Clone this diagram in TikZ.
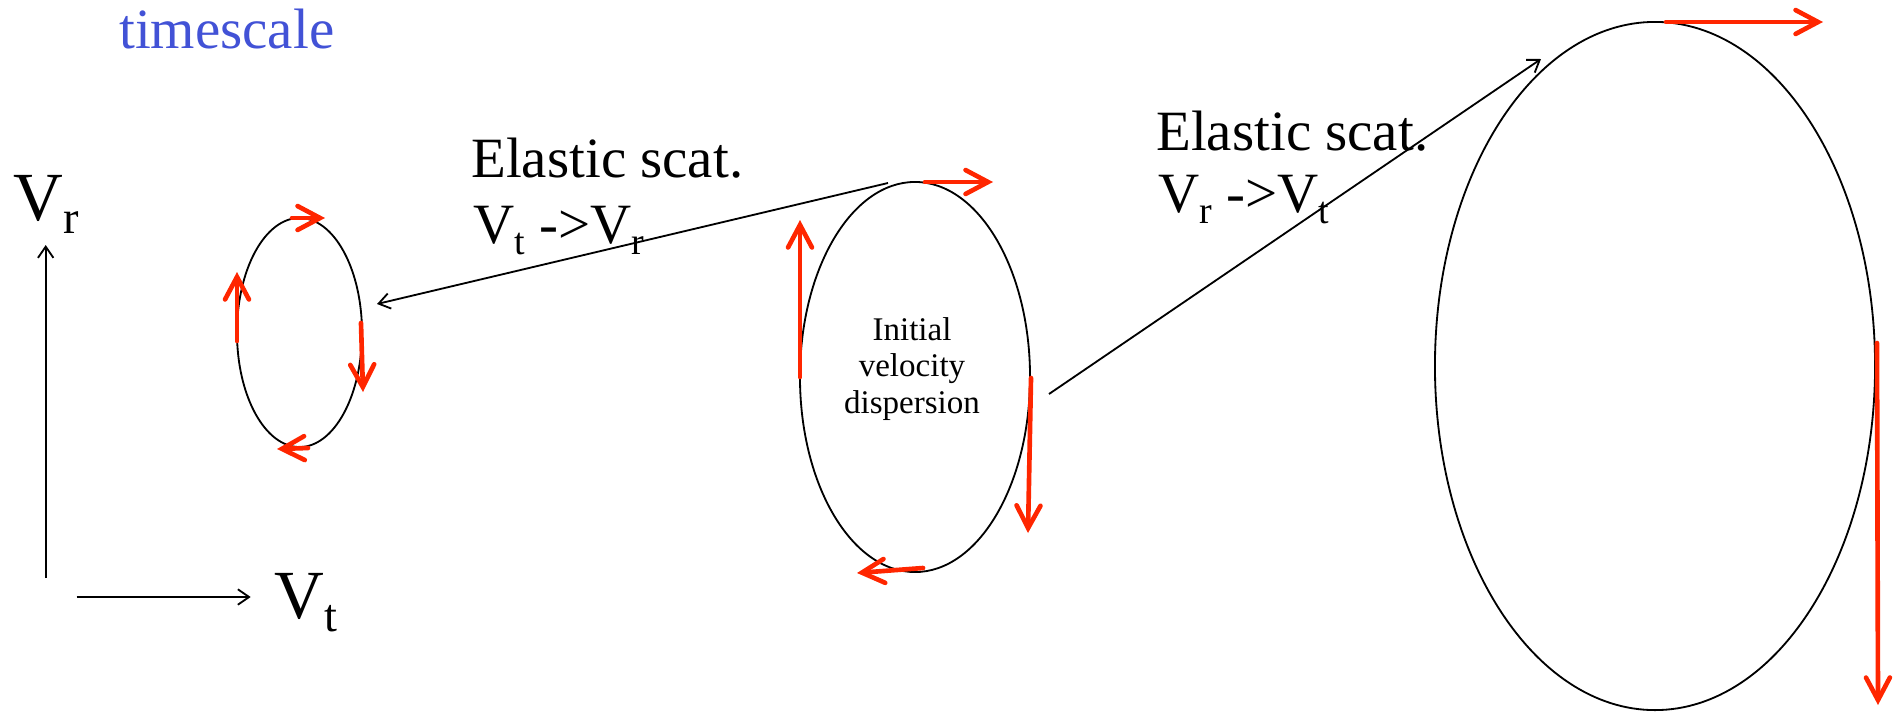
\documentclass[tikz,border=0pt]{standalone}
\usepackage{fontspec}
\setmainfont{Liberation Serif}
\usetikzlibrary{arrows.meta,shapes.geometric}
\definecolor{myred}{RGB}{255,38,0}
\definecolor{myblue}{RGB}{66,82,214}
\newcommand{\lsub}[2]{\raisebox{-0.2em}{\fontsize{#1}{#1}\selectfont #2}}
\begin{document}
\begin{tikzpicture}[x=0.025cm,y=-0.025cm,
  vel/.style={draw=black, line width=1.3pt, ellipse, inner sep=0pt, outer sep=0pt},
  redarr/.style={draw=myred, line width=3.3pt, line cap=round,
    -{Straight Barb[length=16pt,width=17pt,line cap=round]}},
  blackarr/.style={draw=black, line width=1.3pt,
    -{Straight Barb[length=8pt,width=11pt]}},
  lbl/.style={font=\fontsize{40.5pt}{48pt}\selectfont, inner sep=0pt, anchor=base west},
  axlbl/.style={font=\fontsize{49pt}{58pt}\selectfont, inner sep=0pt, anchor=base west},
  smalltxt/.style={font=\fontsize{23.5pt}{26pt}\selectfont, inner sep=0pt, align=center}
]
\useasboundingbox (0,0) rectangle (1894,712);

% title
\node[lbl, text=myblue] (title) at (119,48) {timescale};

% axes
\coordinate (origV) at (45.7,578);
\coordinate (tipV) at (45.7,245);
\coordinate (origH) at (76.7,597);
\coordinate (tipH) at (250.7,597);
\draw[blackarr] (origV) -- (tipV);
\draw[blackarr] (origH) -- (tipH);
\node[axlbl] (Vr) at (13,220) {V\lsub{33pt}{r}};
\node[axlbl] (Vt) at (274,618) {V\lsub{33pt}{t}};

% ellipses
\node[vel, minimum width=3.125cm, minimum height=5.725cm] (small) at (299.5,332.5) {};
\node[vel, minimum width=5.75cm, minimum height=9.75cm] (mid) at (915,377) {};
\node[vel, minimum width=11cm, minimum height=17.2cm] (big) at (1655,366) {};
\node[smalltxt] (init) at (912,369) {Initial\\velocity\\dispersion};

% labels
\node[lbl] (l1a) at (471,177) {Elastic scat.};
\node[lbl] (l1b) at (473,243) {V\lsub{27pt}{t} ->V\lsub{27pt}{r}};
\node[lbl] (l2a) at (1156,150) {Elastic scat.};
\node[lbl] (l2b) at (1158,212) {V\lsub{27pt}{r} ->V\lsub{27pt}{t}};

% scattering arrows
\coordinate (a1s) at (888,183);
\coordinate (a1e) at (377,304);
\draw[blackarr] (a1s) -- (a1e);
\coordinate (a2s) at (1049,394);
\coordinate (a2e) at (1541,59);
\draw[blackarr] (a2s) -- (a2e);

% red arrows small
\draw[redarr] (292,218) -- (325,218);
\draw[redarr] (237,341) -- (237,272);
\draw[redarr] (361,323) -- (363,392);
\draw[redarr] (308,448) -- (277,449);
% red arrows mid
\draw[redarr] (925,182) -- (993,182);
\draw[redarr] (800,377) -- (800,220);
\draw[redarr] (1031,378) -- (1028,533);
\draw[redarr] (923,568) -- (857,573);
% red arrows big
\draw[redarr] (1666,22) -- (1823,22);
\draw[redarr] (1877,343) -- (1878,705);
\end{tikzpicture}
\end{document}
